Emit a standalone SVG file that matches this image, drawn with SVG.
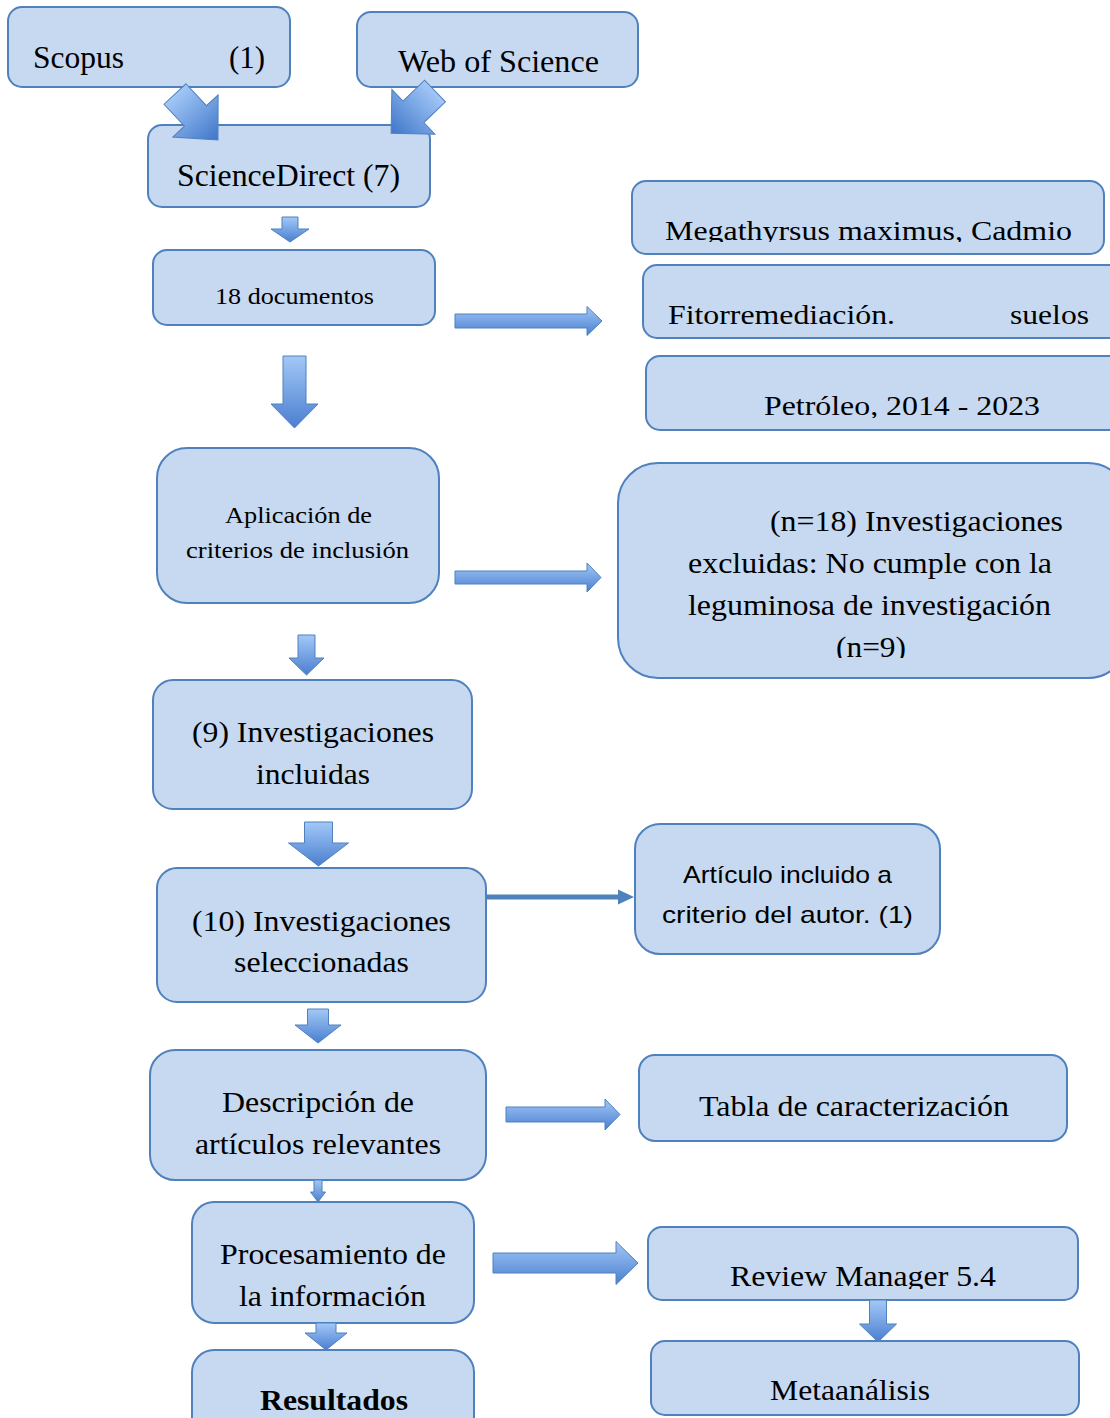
<svg xmlns="http://www.w3.org/2000/svg" width="1110" height="1418" viewBox="0 0 1110 1418">
<style>
.box{fill:#c6d9f0;stroke:#4f81bd;stroke-width:2}
.t{font-family:"Liberation Serif","Times New Roman",serif;fill:#000}
.s{font-family:"Liberation Sans",Arial,sans-serif;fill:#000}
.ar{fill:url(#gv);stroke:#4f81bd;stroke-width:1}
.ad{fill:url(#gd);stroke:#4f81bd;stroke-width:1}
.al{fill:#4f81bd;stroke:none}
</style>
<defs>
<linearGradient id="gv" x1="0" y1="0" x2="0" y2="1">
<stop offset="0" stop-color="#a3c8f8"/>
<stop offset="1" stop-color="#4a7fcf"/>
</linearGradient>
<linearGradient id="gd" x1="0" y1="0" x2="1" y2="0">
<stop offset="0" stop-color="#a3c8f8"/>
<stop offset="1" stop-color="#3f76c8"/>
</linearGradient>
<clipPath id="c1"><rect x="630" y="170" width="480" height="72"/></clipPath>
<clipPath id="c2"><rect x="640" y="350" width="470" height="68"/></clipPath>
<clipPath id="c3"><rect x="610" y="460" width="500" height="198"/></clipPath>
<clipPath id="c4"><rect x="640" y="1220" width="450" height="69"/></clipPath>
</defs>

<g id="n-scopus">
<rect class="box" x="8" y="7" width="282" height="80" rx="14"/>
<text class="t" x="33" y="68" font-size="31" textLength="91" lengthAdjust="spacingAndGlyphs">Scopus</text>
<text class="t" x="229" y="68" font-size="31" textLength="36" lengthAdjust="spacingAndGlyphs">(1)</text>
</g>
<g id="n-wos">
<rect class="box" x="357" y="12" width="281" height="75" rx="14"/>
<text class="t" x="398" y="72" font-size="31" textLength="201" lengthAdjust="spacingAndGlyphs">Web of Science</text>
</g>
<g id="n-sciencedirect">
<rect class="box" x="148" y="125" width="282" height="82" rx="14"/>
<text class="t" x="177" y="186" font-size="31" textLength="223" lengthAdjust="spacingAndGlyphs">ScienceDirect (7)</text>
</g>
<g id="n-18docs">
<rect class="box" x="153" y="250" width="282" height="75" rx="14"/>
<text class="t" x="215" y="304" font-size="23" textLength="159" lengthAdjust="spacingAndGlyphs">18 documentos</text>
</g>
<g id="n-megathyrsus">
<rect class="box" x="632" y="181" width="472" height="73" rx="14"/>
<text class="t" x="665" y="240" font-size="28" textLength="407" lengthAdjust="spacingAndGlyphs" clip-path="url(#c1)">Megathyrsus maximus, Cadmio</text>
</g>
<g id="n-fitorremediacion">
<rect class="box" x="643" y="265" width="480" height="73" rx="14"/>
<text class="t" x="668" y="324" font-size="28" textLength="227" lengthAdjust="spacingAndGlyphs">Fitorremediación.</text>
<text class="t" x="1010" y="324" font-size="28" textLength="79" lengthAdjust="spacingAndGlyphs">suelos</text>
</g>
<g id="n-petroleo">
<rect class="box" x="646" y="356" width="480" height="74" rx="14"/>
<text class="t" x="764" y="415" font-size="28" textLength="276" lengthAdjust="spacingAndGlyphs" clip-path="url(#c2)">Petróleo, 2014 - 2023</text>
</g>
<g id="n-aplicacion">
<rect class="box" x="157" y="448" width="282" height="155" rx="30"/>
<text class="t" x="225" y="523" font-size="23" textLength="147" lengthAdjust="spacingAndGlyphs">Aplicación de</text>
<text class="t" x="186" y="558" font-size="23" textLength="223" lengthAdjust="spacingAndGlyphs">criterios de inclusión</text>
</g>
<g id="n-excluidas">
<rect class="box" x="618" y="463" width="510" height="215" rx="40"/>
<g clip-path="url(#c3)">
<text class="t" x="770" y="531" font-size="29" textLength="293" lengthAdjust="spacingAndGlyphs">(n=18) Investigaciones</text>
<text class="t" x="688" y="573" font-size="29" textLength="364" lengthAdjust="spacingAndGlyphs">excluidas: No cumple con la</text>
<text class="t" x="688" y="615" font-size="29" textLength="363" lengthAdjust="spacingAndGlyphs">leguminosa de investigación</text>
<text class="t" x="836" y="657" font-size="29" textLength="70" lengthAdjust="spacingAndGlyphs">(n=9)</text>
</g>
</g>
<g id="n-incluidas">
<rect class="box" x="153" y="680" width="319" height="129" rx="20"/>
<text class="t" x="192" y="742" font-size="30" textLength="242" lengthAdjust="spacingAndGlyphs">(9) Investigaciones</text>
<text class="t" x="256" y="784" font-size="30" textLength="114" lengthAdjust="spacingAndGlyphs">incluidas</text>
</g>
<g id="n-seleccionadas">
<rect class="box" x="157" y="868" width="329" height="134" rx="20"/>
<text class="t" x="192" y="931" font-size="30" textLength="259" lengthAdjust="spacingAndGlyphs">(10) Investigaciones</text>
<text class="t" x="234" y="972" font-size="30" textLength="175" lengthAdjust="spacingAndGlyphs">seleccionadas</text>
</g>
<g id="n-articulo">
<rect class="box" x="635" y="824" width="305" height="130" rx="25"/>
<text class="s" x="683" y="883" font-size="24" textLength="209" lengthAdjust="spacingAndGlyphs">Artículo incluido a</text>
<text class="s" x="662" y="923" font-size="24" textLength="251" lengthAdjust="spacingAndGlyphs">criterio del autor. (1)</text>
</g>
<g id="n-descripcion">
<rect class="box" x="150" y="1050" width="336" height="130" rx="25"/>
<text class="t" x="222" y="1112" font-size="30" textLength="192" lengthAdjust="spacingAndGlyphs">Descripción de</text>
<text class="t" x="195" y="1154" font-size="30" textLength="246" lengthAdjust="spacingAndGlyphs">artículos relevantes</text>
</g>
<g id="n-tabla">
<rect class="box" x="639" y="1055" width="428" height="86" rx="16"/>
<text class="t" x="699" y="1116" font-size="30" textLength="310" lengthAdjust="spacingAndGlyphs">Tabla de caracterización</text>
</g>
<g id="n-procesamiento">
<rect class="box" x="192" y="1202" width="282" height="121" rx="22"/>
<text class="t" x="220" y="1264" font-size="30" textLength="226" lengthAdjust="spacingAndGlyphs">Procesamiento de</text>
<text class="t" x="239" y="1306" font-size="30" textLength="187" lengthAdjust="spacingAndGlyphs">la información</text>
</g>
<g id="n-review">
<rect class="box" x="648" y="1227" width="430" height="73" rx="14"/>
<text class="t" x="730" y="1286" font-size="30" textLength="266" lengthAdjust="spacingAndGlyphs" clip-path="url(#c4)">Review Manager 5.4</text>
</g>
<g id="n-resultados">
<rect class="box" x="192" y="1350" width="282" height="90" rx="22"/>
<text class="t" x="260" y="1410" font-size="30" font-weight="bold" textLength="148" lengthAdjust="spacingAndGlyphs">Resultados</text>
</g>
<g id="n-metaanalisis">
<rect class="box" x="651" y="1341" width="428" height="74" rx="14"/>
<text class="t" x="770" y="1400" font-size="30" textLength="160" lengthAdjust="spacingAndGlyphs">Metaanálisis</text>
</g>

<g id="connectors">
<polygon class="ad" transform="translate(175,94) rotate(47)" points="0,-15 30,-15 30,-31 63,0 30,31 30,15 0,15"/>
<polygon class="ad" transform="translate(435,91) rotate(136)" points="0,-15 30,-15 30,-31 61,0 30,31 30,15 0,15"/>
<polygon class="ar" points="282,217 298,217 298,229 309,229 290,242 271,229 282,229"/>
<polygon class="ar" points="283,356 306,356 306,404 318,404 294.5,428 271,404 283,404"/>
<polygon class="ar" points="298,635 315,635 315,658 324,658 306.5,675 289,658 298,658"/>
<polygon class="ar" points="304.5,822 332.5,822 332.5,843 348.5,843 318.5,866 288.5,843 304.5,843"/>
<polygon class="ar" points="307.5,1009 328.5,1009 328.5,1025 341,1025 318,1043 295,1025 307.5,1025"/>
<polygon class="ar" points="314,1180 322,1180 322,1192 325.5,1192 318,1202 310.5,1192 314,1192"/>
<polygon class="ar" points="316,1323 336,1323 336,1333 347,1333 326,1350 305,1333 316,1333"/>
<polygon class="ar" points="869.5,1300 886.5,1300 886.5,1324 896.5,1324 878,1342 859.5,1324 869.5,1324"/>
<polygon class="ar" points="455,314 587,314 587,306.5 602,321 587,335.5 587,328 455,328"/>
<polygon class="ar" points="455,571 587,571 587,563 601,577.5 587,592 587,584 455,584"/>
<polygon class="al" points="486,894.5 618,894.5 618,889.5 634,897 618,904.5 618,899.5 486,899.5"/>
<polygon class="ar" points="506,1107 605,1107 605,1099 620,1114.5 605,1130 605,1122 506,1122"/>
<polygon class="ar" points="493,1253 616,1253 616,1241.5 638,1263 616,1284.5 616,1273 493,1273"/>
</g>
</svg>
